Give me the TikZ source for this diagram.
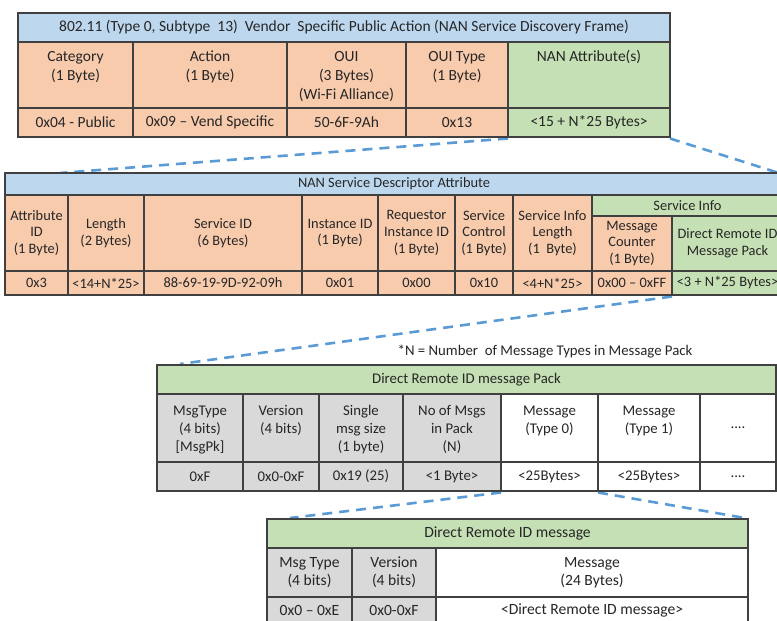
\documentclass[tikz,border=0pt]{standalone}
\usepackage{fontspec}
\setmainfont{Carlito}
\usetikzlibrary{calc}

\definecolor{hdrblue}{HTML}{BDD7EE}
\definecolor{fldorange}{HTML}{F8CBAD}
\definecolor{fldgreen}{HTML}{C5E0B4}
\definecolor{fldgray}{HTML}{D9D9D9}
\definecolor{gridline}{HTML}{404040}
\definecolor{inktext}{HTML}{262626}
\definecolor{linkblue}{HTML}{5B9BD5}

\pgfdeclarelayer{paper}
\pgfdeclarelayer{links}
\pgfsetlayers{paper,links,main}

\tikzset{
  field/.style={draw=gridline, line width=1.1bp, inner sep=0pt, outer sep=0pt,
                text=inktext, align=center},
  fieldtext/.style={inner sep=0pt, outer sep=0pt, text=inktext, align=center},
  dashlink/.style={draw=linkblue, line width=2.6bp, dash pattern=on 10bp off 7bp},
  fA/.style={font=\fontsize{15.5bp}{19bp}\selectfont},
  fB/.style={font=\fontsize{14.4bp}{16.7bp}\selectfont},
  fC/.style={font=\fontsize{14.8bp}{18bp}\selectfont},
  fD/.style={font=\fontsize{15.6bp}{18.3bp}\selectfont},
}

% cell with vertically centred text: name, x0, y0, x1, y1, options, text
\newcommand{\fcell}[7]{%
  \node[field,#6,minimum width={(#4-#2)*1bp},minimum height={(#5-#3)*1bp}]
    (#1) at ({(#2+#4)/2},{(#3+#5)/2}) {#7};}
% cell with top aligned text: name, x0, y0, x1, y1, fill, font, gap, text
\newcommand{\fcelltop}[9]{%
  \node[field,#6,minimum width={(#4-#2)*1bp},minimum height={(#5-#3)*1bp}]
    (#1) at ({(#2+#4)/2},{(#3+#5)/2}) {};
  \node[fieldtext,#7,anchor=north] (#1-t) at ([yshift=-#8bp]#1.north) {\strut #9};}

\begin{document}
\begin{tikzpicture}[x=1bp,y=-1bp]
\clip (0,0) rectangle (777,621);
\begin{pgfonlayer}{paper}
  \fill[white] (0,0) rectangle (777,621);
\end{pgfonlayer}

% ---- 802.11 action frame ----
\fcell{t1head}{18}{13}{670}{42}{fill=hdrblue,fA}{802.11 (Type 0, Subtype\ \ 13)\ \ Vendor\ \ Specific Public Action (NAN Service Discovery Frame)}
\fcelltop{t1cat}{18}{42}{133}{108}{fill=fldorange}{fA}{6.7}{Category\\(1 Byte)}
\fcelltop{t1act}{133}{42}{287}{108}{fill=fldorange}{fA}{6.7}{Action\\(1 Byte)}
\fcelltop{t1oui}{287}{42}{406}{108}{fill=fldorange}{fA}{6.7}{OUI\\(3 Bytes)\\(Wi-Fi Alliance)}
\fcelltop{t1ouit}{406}{42}{508}{108}{fill=fldorange}{fA}{6.7}{OUI Type\\(1 Byte)}
\fcelltop{t1nan}{508}{42}{670}{108}{fill=fldgreen}{fA}{6.7}{NAN Attribute(s)}
\fcell{t1catv}{18}{108}{133}{137}{fill=fldorange,fA}{0x04 - Public}
\fcell{t1actv}{133}{108}{287}{137}{fill=fldorange,fA}{0x09 – Vend Specific}
\fcell{t1ouiv}{287}{108}{406}{137}{fill=fldorange,fA}{50-6F-9Ah}
\fcell{t1ouitv}{406}{108}{508}{137}{fill=fldorange,fA}{0x13}
\fcell{t1nanv}{508}{108}{670}{137}{fill=fldgreen,fA}{<15 + N*25 Bytes>}

% ---- NAN service descriptor attribute ----
\fcell{t2head}{5}{173}{783}{195}{fill=hdrblue,fB}{NAN Service Descriptor Attribute}
\fcell{t2attr}{5}{195}{68}{271}{fill=fldorange,fB}{Attribute\\ID\\(1 Byte)}
\fcell{t2len}{68}{195}{144}{271}{fill=fldorange,fB}{Length\\(2 Bytes)}
\fcell{t2sid}{144}{195}{302}{271}{fill=fldorange,fB}{Service ID\\(6 Bytes)}
\fcell{t2iid}{302}{195}{378}{271}{fill=fldorange,fB}{Instance ID\\(1 Byte)}
\fcell{t2rid}{378}{195}{455}{271}{fill=fldorange,fB}{Requestor\\Instance ID\\(1 Byte)}
\fcell{t2sc}{455}{195}{513}{271}{fill=fldorange,fB}{Service\\Control\\(1 Byte)}
\fcell{t2sil}{513}{195}{592}{271}{fill=fldorange,fB}{Service Info\\Length\\(1\ \ Byte)}
\fcell{t2si}{592}{195}{783}{216}{fill=fldgreen,fB}{Service Info}
\fcell{t2mc}{592}{216}{672}{271}{fill=fldorange,fB}{Message\\Counter\\(1 Byte)}
\fcell{t2drp}{672}{216}{783}{271}{fill=fldgreen,fB}{Direct Remote ID\\Message Pack}
\fcell{t2attrv}{5}{271}{68}{295}{fill=fldorange,fB}{0x3}
\fcell{t2lenv}{68}{271}{144}{295}{fill=fldorange,fB}{<14+N*25>}
\fcell{t2sidv}{144}{271}{302}{295}{fill=fldorange,fB}{88-69-19-9D-92-09h}
\fcell{t2iidv}{302}{271}{378}{295}{fill=fldorange,fB}{0x01}
\fcell{t2ridv}{378}{271}{455}{295}{fill=fldorange,fB}{0x00}
\fcell{t2scv}{455}{271}{513}{295}{fill=fldorange,fB}{0x10}
\fcell{t2silv}{513}{271}{592}{295}{fill=fldorange,fB}{<4+N*25>}
\fcell{t2mcv}{592}{271}{672}{295}{fill=fldorange,fB}{0x00 – 0xFF}
\fcell{t2drpv}{672}{271}{783}{295}{fill=fldgreen,fB}{<3 + N*25 Bytes>}

% ---- footnote ----
\node[fieldtext,fC] (note) at (545,352) {*N = Number\ \ of Message Types in Message Pack};

% ---- Direct Remote ID message pack ----
\fcell{t3head}{157}{365}{776}{394}{fill=fldgreen,fC}{Direct Remote ID message Pack}
\fcelltop{t3type}{157}{394}{243}{462}{fill=fldgray}{fC}{8.9}{MsgType\\(4 bits)\\{}[MsgPk]}
\fcelltop{t3ver}{243}{394}{319}{462}{fill=fldgray}{fC}{8.9}{Version\\(4 bits)}
\fcelltop{t3size}{319}{394}{403}{462}{fill=fldgray}{fC}{8.9}{Single\\msg size\\(1 byte)}
\fcelltop{t3num}{403}{394}{501}{462}{fill=fldgray}{fC}{8.9}{No of Msgs\\in Pack\\(N)}
\fcelltop{t3m0}{501}{394}{598}{462}{fill=white}{fC}{8.9}{Message\\(Type 0)}
\fcelltop{t3m1}{598}{394}{700}{462}{fill=white}{fC}{8.9}{Message\\(Type 1)}
\fcell{t3more}{700}{394}{776}{462}{fill=white,fC}{....}
\fcell{t3typev}{157}{462}{243}{491}{fill=fldgray,fC}{0xF}
\fcell{t3verv}{243}{462}{319}{491}{fill=fldgray,fC}{0x0-0xF}
\fcell{t3sizev}{319}{462}{403}{491}{fill=fldgray,fC}{0x19 (25)}
\fcell{t3numv}{403}{462}{501}{491}{fill=fldgray,fC}{<1 Byte>}
\fcell{t3m0v}{501}{462}{598}{491}{fill=white,fC}{<25Bytes>}
\fcell{t3m1v}{598}{462}{700}{491}{fill=white,fC}{<25Bytes>}
\fcell{t3morev}{700}{462}{776}{491}{fill=white,fC}{....}

% ---- Direct Remote ID message ----
\fcell{t4head}{267}{519}{748}{548}{fill=fldgreen,fD}{Direct Remote ID message}
\fcell{t4type}{267}{548}{352}{597}{fill=fldgray,fD}{Msg Type\\(4 bits)}
\fcell{t4ver}{352}{548}{436}{597}{fill=fldgray,fD}{Version\\(4 bits)}
\fcell{t4msg}{436}{548}{748}{597}{fill=white,fD}{Message\\(24 Bytes)}
\fcell{t4typev}{267}{597}{352}{624}{fill=fldgray,fD}{0x0 – 0xE}
\fcell{t4verv}{352}{597}{436}{624}{fill=fldgray,fD}{0x0-0xF}
\fcell{t4msgv}{436}{597}{748}{624}{fill=white,fD}{<Direct Remote ID message>}

% ---- zoom-in connectors ----
\coordinate (k1) at (60,173);
\coordinate (k2) at (782,174);
\coordinate (k3) at (180,364);
\coordinate (k4) at (290,518);
\coordinate (k5) at (745,518);
\begin{pgfonlayer}{links}
  \draw[dashlink] ([yshift=-1.5bp]t1nanv.south west) -- (k1);
  \draw[dashlink] ([yshift=-1.5bp]t1nanv.south east) -- (k2);
  \draw[dashlink] ([yshift=-1.5bp]t2drpv.south west) -- (k3);
  \draw[dashlink] ([yshift=-1.5bp]t3m0v.south west) -- (k4);
  \draw[dashlink] ([yshift=-1.5bp]t3m0v.south east) -- (k5);
\end{pgfonlayer}
\end{tikzpicture}
\end{document}
